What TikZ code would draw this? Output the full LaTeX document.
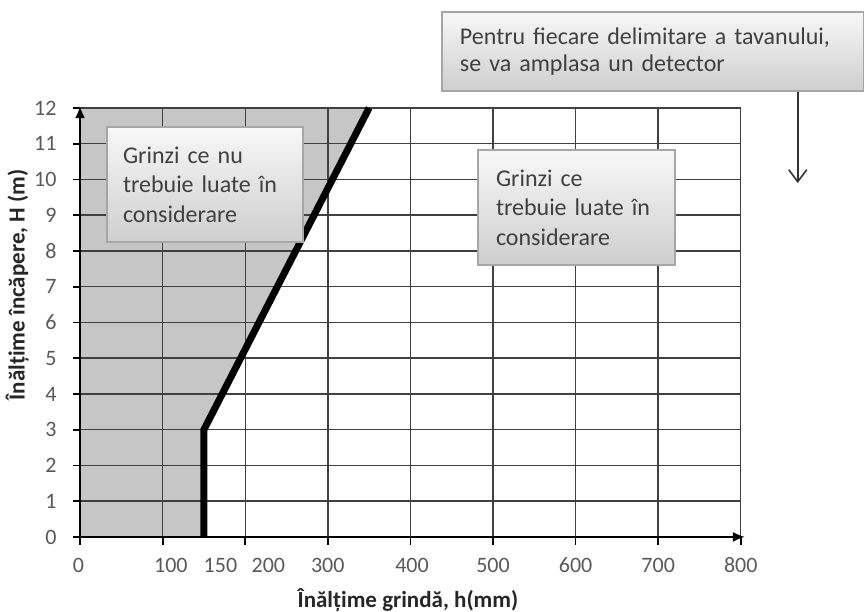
\documentclass[tikz,border=0pt]{standalone}
\usepackage{fontspec}
\setmainfont{Carlito}
\usetikzlibrary{arrows.meta}
\tikzset{
	gridline/.style={black!75,line width=0.7pt},
	axisline/.style={black,line width=0.9pt,-{Latex[length=6pt,width=5pt]}},
	tickmark/.style={black,line width=0.9pt},
	limitline/.style={black,line width=3.5pt,line join=miter},
	ticklabel/.style={text=black!65,font=\fontsize{11}{13}\selectfont,inner sep=0pt},
	axistitle/.style={text=black!85,font=\bfseries\fontsize{11.5}{13}\selectfont},
	notebox/.style={draw=gray!70,line width=0.8pt,top color=gray!6,bottom color=gray!38,text=black!75,align=left,inner xsep=8pt,font=\fontsize{12}{14.75}\selectfont}
}
\begin{document}
\begin{tikzpicture}[x=41.3pt,y=17.875pt]
	\useasboundingbox (-0.969,-2.098) rectangle (9.492,15.02);
	\fill[gray!45] (0,0)--(1.5,0)--(1.5,3)--(3.5,12)--(0,12)--cycle;
	\draw[gridline] (0,1)--(8,1);
	\draw[gridline] (0,2)--(8,2);
	\draw[gridline] (0,3)--(8,3);
	\draw[gridline] (0,4)--(8,4);
	\draw[gridline] (0,5)--(8,5);
	\draw[gridline] (0,6)--(8,6);
	\draw[gridline] (0,7)--(8,7);
	\draw[gridline] (0,8)--(8,8);
	\draw[gridline] (0,9)--(8,9);
	\draw[gridline] (0,10)--(8,10);
	\draw[gridline] (0,11)--(8,11);
	\draw[gridline] (0,12)--(8,12);
	\draw[gridline] (1,0)--(1,12);
	\draw[gridline] (2,0)--(2,12);
	\draw[gridline] (3,0)--(3,12);
	\draw[gridline] (4,0)--(4,12);
	\draw[gridline] (5,0)--(5,12);
	\draw[gridline] (6,0)--(6,12);
	\draw[gridline] (7,0)--(7,12);
	\draw[gridline] (8,0)--(8,12);
	\draw[tickmark] (-0.09,0)--(0,0);
	\draw[tickmark] (-0.09,1)--(0,1);
	\draw[tickmark] (-0.09,2)--(0,2);
	\draw[tickmark] (-0.09,3)--(0,3);
	\draw[tickmark] (-0.09,4)--(0,4);
	\draw[tickmark] (-0.09,5)--(0,5);
	\draw[tickmark] (-0.09,6)--(0,6);
	\draw[tickmark] (-0.09,7)--(0,7);
	\draw[tickmark] (-0.09,8)--(0,8);
	\draw[tickmark] (-0.09,9)--(0,9);
	\draw[tickmark] (-0.09,10)--(0,10);
	\draw[tickmark] (-0.09,11)--(0,11);
	\draw[tickmark] (-0.09,12)--(0,12);
	\draw[tickmark] (0,0)--(0,-0.22);
	\draw[tickmark] (1,0)--(1,-0.22);
	\draw[tickmark] (2,0)--(2,-0.22);
	\draw[tickmark] (3,0)--(3,-0.22);
	\draw[tickmark] (4,0)--(4,-0.22);
	\draw[tickmark] (5,0)--(5,-0.22);
	\draw[tickmark] (6,0)--(6,-0.22);
	\draw[tickmark] (7,0)--(7,-0.22);
	\draw[tickmark] (8,0)--(8,-0.22);
	\draw[axisline] (0,0)--(0,12.05);
	\draw[axisline] (0,0)--(8.05,0);
	\draw[limitline] (1.5,0)--(1.5,3)--(3.5,12);
	\node[ticklabel,anchor=base east] (h0) at (-0.28,-0.2) {0};
	\node[ticklabel,anchor=base east] (h1) at (-0.28,0.8) {1};
	\node[ticklabel,anchor=base east] (h2) at (-0.28,1.8) {2};
	\node[ticklabel,anchor=base east] (h3) at (-0.28,2.8) {3};
	\node[ticklabel,anchor=base east] (h4) at (-0.28,3.8) {4};
	\node[ticklabel,anchor=base east] (h5) at (-0.28,4.8) {5};
	\node[ticklabel,anchor=base east] (h6) at (-0.28,5.8) {6};
	\node[ticklabel,anchor=base east] (h7) at (-0.28,6.8) {7};
	\node[ticklabel,anchor=base east] (h8) at (-0.28,7.8) {8};
	\node[ticklabel,anchor=base east] (h9) at (-0.28,8.8) {9};
	\node[ticklabel,anchor=base east] (h10) at (-0.28,9.8) {10};
	\node[ticklabel,anchor=base east] (h11) at (-0.28,10.8) {11};
	\node[ticklabel,anchor=base east] (h12) at (-0.28,11.8) {12};
	\node[ticklabel,anchor=base] (g0) at (-0.02,-1.0) {0};
	\node[ticklabel,anchor=base] (g100) at (1.10,-1.0) {100};
	\node[ticklabel,anchor=base] (g150) at (1.70,-1.0) {150};
	\node[ticklabel,anchor=base] (g200) at (2.28,-1.0) {200};
	\node[ticklabel,anchor=base] (g300) at (3,-1.0) {300};
	\node[ticklabel,anchor=base] (g400) at (4.02,-1.0) {400};
	\node[ticklabel,anchor=base] (g500) at (5,-1.0) {500};
	\node[ticklabel,anchor=base] (g600) at (6,-1.0) {600};
	\node[ticklabel,anchor=base] (g700) at (7,-1.0) {700};
	\node[ticklabel,anchor=base] (g800) at (8,-1.0) {800};
	\node[axistitle] (xtitle) at (3.97,-1.76) {Înălțime grindă, h(mm)};
	\node[axistitle,rotate=90] (ytitle) at (-0.76,7.05) {Înălțime încăpere, H (m)};
	\node[notebox,text width=82pt,minimum height=57.5pt] (ignored) at (1.513,9.86) {Grinzi ce nu\\trebuie luate în\\considerare};
	\node[notebox,inner xsep=9pt,text width=80.5pt,minimum height=57.5pt] (counted) at (6.011,9.217) {Grinzi ce\\trebuie luate în\\considerare};
	\node[notebox,inner xsep=9pt,text width=193pt,minimum height=39.5pt,font=\fontsize{12}{13.5}\selectfont] (detector) at (6.937,13.58) {Pentru fiecare delimitare a tavanului,\\se va amplasa un detector};
	\coordinate (arrowend) at (8.69,9.9);
	\draw[black!80,line width=0.8pt,-{Straight Barb[length=6pt,width=9pt]}] (detector.south -| arrowend)--(arrowend);
\end{tikzpicture}
\end{document}
